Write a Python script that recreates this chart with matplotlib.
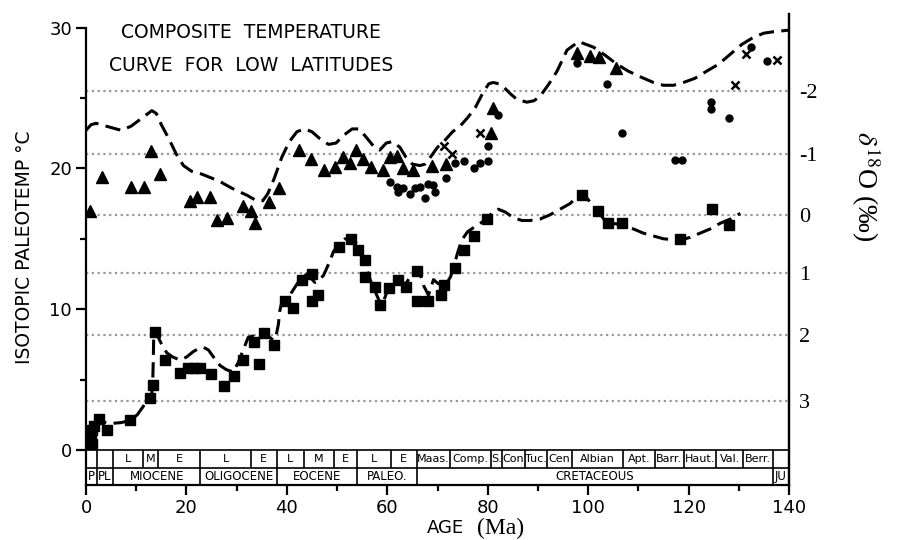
import numpy as np
import matplotlib
matplotlib.use('Agg')
import matplotlib.pyplot as plt

plt.rcParams['font.family'] = ['DejaVu Sans']
plt.rcParams['mathtext.fontset'] = 'stix'

#%% data (age in Ma, temperature in deg C)

upper_curve_age = [0.0, 1.0, 2.0, 4.0, 6.0, 7.1, 9.0, 10.5, 12.0, 13.1, 14.0, 15.0, 16.5, 18.0,
                   19.4, 21.0, 23.0, 26.5, 29.0, 32.0, 34.0, 35.2, 36.2, 37.5, 39.0, 40.5, 42.0,
                   43.5, 45.0, 46.6, 48.3, 49.8, 51.5, 53.0, 54.3, 55.6, 57.2, 58.5, 59.8, 61.0,
                   62.5, 63.7, 65.0, 66.5, 67.5, 68.8, 70.0, 71.5, 73.0, 74.5, 76.0, 77.5, 79.1,
                   80.2, 81.1, 82.2, 83.1, 84.5, 85.8, 87.8, 89.2, 90.4, 92.2, 93.8, 95.8, 98.1,
                   101.1, 103.5, 105.7, 108.0, 110.4, 113.0, 115.0, 117.0, 119.0, 121.3, 123.6,
                   126.0, 128.3, 130.6, 132.9, 135.0, 136.9, 139.6, 140.0]
upper_curve_temp = [22.7, 23.1, 23.2, 23.0, 22.8, 22.7, 23.0, 23.4, 23.8, 24.1, 23.9, 23.1, 22.1, 21.0,
                    20.2, 19.8, 19.6, 19.1, 18.6, 18.1, 17.7, 17.7, 18.2, 19.3, 20.8, 21.9, 22.6,
                    22.8, 22.6, 22.1, 21.7, 21.8, 22.4, 22.8, 22.8, 22.3, 21.6, 21.3, 21.8, 21.9,
                    21.5, 20.8, 20.3, 20.2, 20.3, 20.9, 21.5, 22.0, 22.6, 23.0, 23.6, 24.3, 25.4,
                    26.0, 26.1, 26.0, 25.8, 25.3, 24.9, 24.7, 24.8, 25.1, 26.0, 26.9, 28.4, 29.0,
                    28.6, 28.0, 27.4, 26.9, 26.5, 26.1, 25.9, 25.9, 26.1, 26.4, 26.9,
                    27.4, 28.1, 28.8, 29.3, 29.6, 29.7, 29.8, 29.8]

lower_curve_age = [0.8, 0.8, 1.2, 1.8, 3.0, 5.4, 7.0, 8.8, 10.2, 11.4, 12.4, 13.1, 13.3, 13.4, 13.5,
                   14.4, 15.2, 16.1, 17.3, 18.7, 20.0, 21.4, 22.4, 23.4, 24.4, 25.4, 26.7, 28.0,
                   29.3, 30.3, 31.3, 32.3, 33.2, 34.0, 35.0, 35.7, 36.6, 37.3, 37.9, 38.3, 38.6,
                   39.0, 39.6, 40.6, 41.5, 42.6, 44.0, 44.8, 45.6, 46.5, 47.3, 48.3, 49.3, 50.5,
                   51.6, 53.2, 54.1, 54.9, 55.6, 56.2, 57.0, 57.9, 58.9, 59.9, 60.9, 61.9, 62.7,
                   63.5, 64.2, 64.9, 66.2, 66.7, 67.2, 68.2, 69.2, 70.2, 71.0, 71.9, 72.6, 73.2,
                   74.0, 74.8, 76.0, 77.2, 78.5, 79.8, 81.0, 82.1, 83.5, 85.1, 86.8, 88.4, 90.4,
                   92.4, 94.4, 96.4, 97.6, 98.7, 99.7, 100.7, 101.9, 103.1, 104.8, 106.7, 109.0,
                   111.0, 113.0, 115.0, 118.3, 120.3, 122.3, 124.3, 126.3, 128.3, 130.3]
lower_curve_temp = [0.2, 1.2, 1.7, 2.0, 2.0, 1.9, 1.95, 2.1, 2.5, 3.1, 3.6, 4.0, 5.0, 6.4, 8.4,
                    8.0, 7.4, 6.9, 6.6, 6.4, 6.6, 7.0, 7.2, 7.3, 7.1, 6.6, 6.0, 5.7,
                    5.55, 6.2, 7.1, 8.0, 8.1, 7.9, 8.0, 8.2, 8.0, 7.8, 8.2, 8.9, 9.9,
                    10.5, 10.7, 11.0, 11.5, 12.1, 12.5, 12.2, 11.9, 12.1, 12.4, 13.2, 14.1, 14.7,
                    15.0, 15.0, 14.5, 13.9, 13.2, 12.5, 11.7, 11.0, 10.2, 11.2, 11.7, 11.9, 11.9,
                    11.7, 12.1, 12.5, 12.8, 12.3, 11.7, 11.0, 12.1, 11.8, 11.8, 11.9, 12.3, 13.0,
                    14.0, 14.9, 15.5, 15.8, 16.1, 16.4, 16.9, 17.1, 16.9, 16.5, 16.3, 16.3, 16.4,
                    16.7, 17.1, 17.5, 17.9, 18.2, 17.9, 17.5, 17.0, 16.4, 16.1, 16.0, 15.7,
                    15.4, 15.2, 15.0, 14.9, 15.1, 15.4, 15.7, 16.1, 16.4, 16.8]

tri_age = [0.8, 3.1, 8.9, 11.6, 12.9, 14.7, 20.7, 22.2, 24.7, 26.0, 28.0, 31.3, 32.8, 33.7,
           36.4, 38.4, 42.5, 44.8, 47.4, 49.6, 51.1, 52.5, 53.8, 55.2, 56.7, 59.2, 60.6, 62.0,
           63.1, 65.2, 69.0, 71.6, 80.6, 81.1, 97.7, 100.4, 102.1, 105.5]
tri_temp = [17.0, 19.4, 18.7, 18.7, 21.2, 19.6, 17.7, 18.0, 18.0, 16.3, 16.5, 17.3, 17.0, 16.1,
            17.6, 18.6, 21.3, 20.7, 19.9, 20.1, 20.8, 20.4, 21.3, 20.7, 20.1, 19.9, 20.8, 20.9,
            20.0, 19.9, 20.2, 20.3, 22.5, 24.3, 28.2, 28.0, 27.9, 27.1]

dot_age = [60.6, 61.9, 62.2, 63.2, 64.5, 65.5, 66.5, 67.5, 68.2, 69.2, 69.5, 71.6, 73.4, 75.3,
           77.2, 78.5, 80.0, 80.1, 82.1, 97.8, 103.8, 106.7, 117.2, 118.6, 124.5, 124.5,
           128.0, 132.5, 135.6]
dot_temp = [19.0, 18.7, 18.3, 18.6, 18.2, 18.6, 18.7, 17.9, 18.9, 18.8, 18.3, 19.3, 20.4, 20.5,
            20.0, 20.4, 20.5, 21.6, 23.8, 27.5, 26.0, 22.5, 20.6, 20.6, 24.7, 24.2,
            23.6, 28.6, 27.6]

x_age = [71.3, 72.8, 78.5, 129.2, 131.4, 137.6]
x_temp = [21.6, 21.0, 22.5, 25.9, 28.1, 27.7]

sq_age = [1.1, 1.0, 1.2, 1.5, 2.5, 4.1, 8.8, 12.8, 13.3, 13.7, 15.7, 18.7, 20.4, 21.5, 22.7,
          24.9, 27.4, 29.4, 31.3, 33.5, 34.5, 35.5, 37.4, 39.7, 41.3, 43.0, 45.0, 45.0, 46.3,
          50.4, 52.7, 54.2, 55.6, 55.6, 57.5, 58.6, 60.4, 62.2, 63.7, 66.0, 65.9, 68.2, 70.7,
          71.2, 73.4, 75.2, 77.2, 79.8, 98.7, 101.9, 104.0, 106.7, 118.3, 124.6, 128.0]
sq_temp = [0.4, 0.9, 1.4, 1.7, 2.2, 1.4, 2.1, 3.7, 4.6, 8.4, 6.4, 5.5, 5.8, 5.8, 5.85,
           5.4, 4.55, 5.25, 6.4, 7.7, 6.1, 8.3, 7.45, 10.6, 10.1, 12.1, 12.5, 10.6, 11.0,
           14.4, 15.0, 14.2, 13.5, 12.3, 11.6, 10.3, 11.5, 12.1, 11.6, 12.7, 10.6, 10.6, 11.0,
           11.7, 12.9, 14.2, 15.2, 16.4, 18.1, 17.0, 16.1, 16.1, 14.95, 17.1, 16.0]

# delta 18O scale on the right (labels and matching temperature)
d18o_labels = ['-2', '-1', '0', '1', '2', '3']
d18o_temp = [25.5, 21.0, 16.7, 12.6, 8.2, 3.5]

# time scale strip
stage_bounds = [0, 2.1, 5.4, 11.4, 14.4, 22.8, 32.8, 38.0, 43.4, 49.3, 54.0, 60.7, 65.9, 72.4,
                80.6, 82.8, 87.5, 91.8, 96.8, 107.0, 113.3, 119.0, 125.5, 130.9, 136.8, 140]
stage_names = ['', '', 'L', 'M', 'E', 'L', 'E', 'L', 'M', 'E', 'L', 'E', 'Maas.', 'Comp.', 'S.',
               'Con', 'Tuc.', 'Cen', 'Albian', 'Apt.', 'Barr.', 'Haut.', 'Val.', 'Berr.', '']
epoch_bounds = [0, 2.1, 5.4, 22.8, 38.0, 54.0, 65.9, 136.8, 140]
epoch_names = ['P', 'PL', 'MIOCENE', 'OLIGOCENE', 'EOCENE', 'PALEO.', 'CRETACEOUS', 'JU']

#%% plot

fig = plt.figure(figsize=(8.97, 5.4), dpi=100)
ax = fig.add_axes([86/897, 1-485/540, 703/897, 471/540])

y_bot = -2.48
y_mid = -1.28
ax.set_xlim(0, 140)
ax.set_ylim(y_bot, 30.96)

grid_col = '#8a9e9c'
ax.hlines(d18o_temp, 0, 140, colors=grid_col, linestyles=(0, (1, 1.6)), linewidth=1.6, zorder=1)

dash = (0, (5, 2.4))
ax.plot(upper_curve_age, upper_curve_temp, color='k', lw=2.2, ls=dash, zorder=3)
ax.plot(lower_curve_age, lower_curve_temp, color='k', lw=2.2, ls=dash, zorder=3)

ax.plot(tri_age, tri_temp, '^', color='k', ms=9, zorder=4)
ax.plot(dot_age, dot_temp, 'o', color='k', ms=5, zorder=4)
ax.plot(x_age, x_temp, 'x', color='k', ms=6, mew=1.8, zorder=4)
ax.plot(sq_age, sq_temp, 's', color='k', ms=7, zorder=4)

# time scale box
ax.hlines([0, y_mid], 0, 140, colors='k', lw=1.2, zorder=5)
ax.vlines(stage_bounds, y_mid, 0, colors='k', lw=1.2, zorder=5)
ax.vlines(epoch_bounds, y_bot, y_mid, colors='k', lw=1.2, zorder=5)
for i, name in enumerate(stage_names):
    c = (stage_bounds[i] + stage_bounds[i+1]) / 2
    ax.text(c, y_mid/2, name, ha='center', va='center', fontsize=8)
for i, name in enumerate(epoch_names):
    c = (epoch_bounds[i] + epoch_bounds[i+1]) / 2
    ax.text(c, (y_mid + y_bot)/2, name, ha='center', va='center', fontsize=8.5)

# axes and ticks
ax.spines['top'].set_visible(False)
ax.spines['left'].set_bounds(y_bot, 30)
for s in ['left', 'bottom', 'right']:
    ax.spines[s].set_linewidth(1.6)

ax.set_xticks(range(0, 141, 20))
ax.set_xticks(range(10, 140, 20), minor=True)
ax.set_yticks([0, 10, 20, 30])
ax.set_yticks([5, 15, 25], minor=True)
ax.tick_params(axis='both', which='major', length=7, width=1.6, labelsize=13, pad=3)
ax.tick_params(axis='both', which='minor', length=4.5, width=1.6)

ax2 = ax.twinx()
ax2.set_ylim(ax.get_ylim())
ax2.set_yticks(d18o_temp)
ax2.set_yticklabels(d18o_labels, family='Liberation Serif', fontsize=16)
ax2.tick_params(axis='y', length=0, pad=7)
for s in ['top', 'left', 'bottom']:
    ax2.spines[s].set_visible(False)
ax2.spines['right'].set_linewidth(1.6)

# texts
ax.text(0.235, 0.96, 'COMPOSITE  TEMPERATURE', transform=ax.transAxes, ha='center',
        va='center', fontsize=13.5)
ax.text(0.235, 0.89, 'CURVE  FOR  LOW  LATITUDES', transform=ax.transAxes, ha='center',
        va='center', fontsize=13.5)
fig.text(25/897, 1-247/540, 'ISOTOPIC PALEOTEMP °C', rotation=90, ha='center', va='center',
         fontsize=13.5)
fig.text(445/897, 1-528/540, 'AGE', ha='center', va='center', fontsize=13)
fig.text(501/897, 1-528/540, '(Ma)', ha='center', va='center', family='Liberation Serif',
         fontsize=17)
fig.text(866/897, 1-186/540, r'$\delta^{18}$O (‰)', rotation=270, ha='center', va='center',
         family='Liberation Serif', fontsize=20)

fig.savefig('out.png', dpi=100)
